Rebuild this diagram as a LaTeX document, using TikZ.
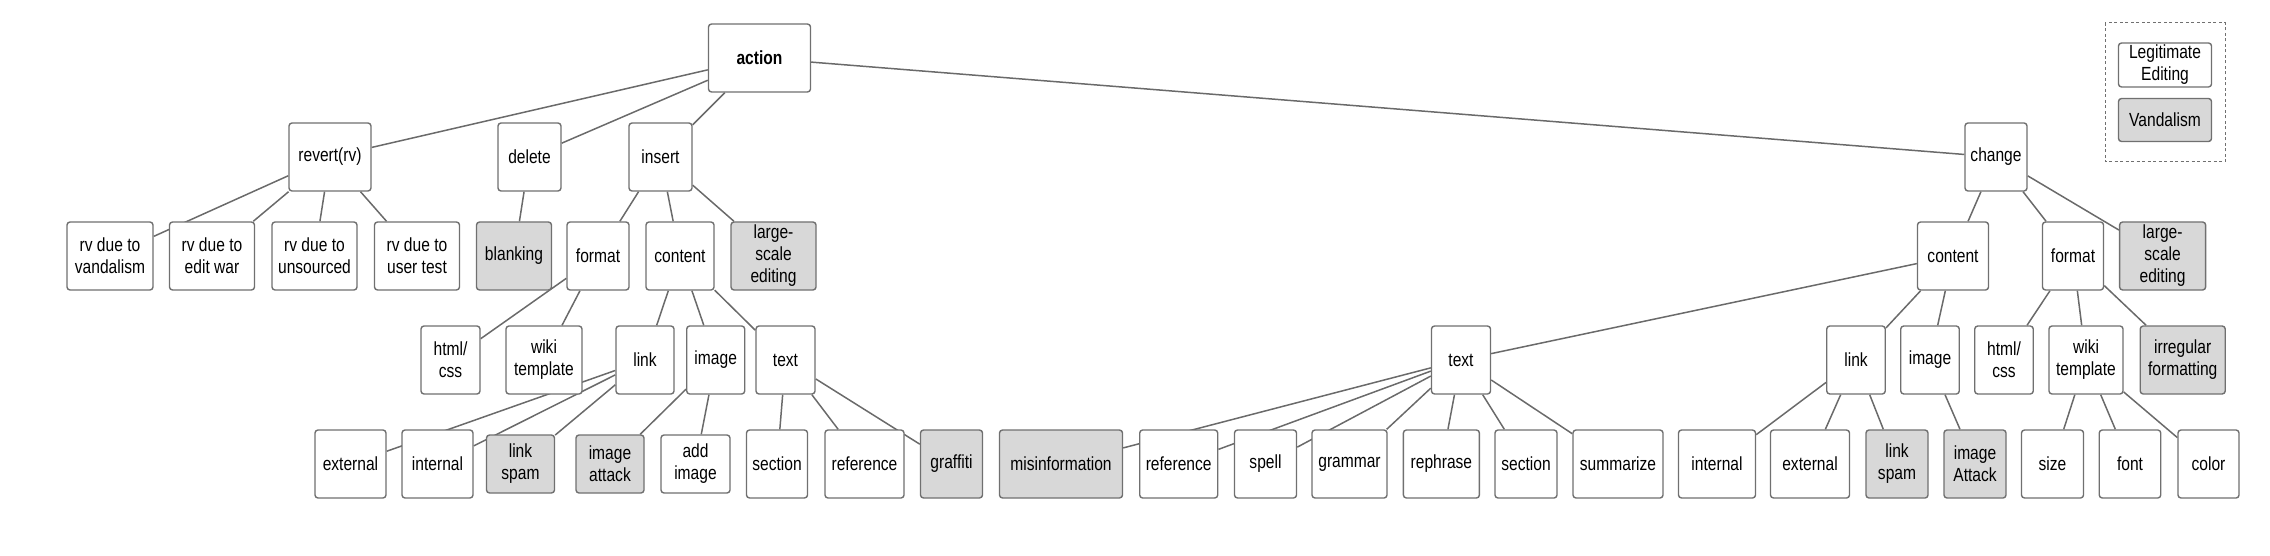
\documentclass[tikz,border=0pt]{standalone}
\usepackage{fontspec}
\setmainfont{Liberation Sans}[FakeStretch=0.82]
\usetikzlibrary{backgrounds}
\definecolor{boxgray}{HTML}{707070}
\definecolor{linegray}{HTML}{6A6A6A}
\definecolor{vgray}{HTML}{D8D8D8}
\tikzset{
  box/.style={draw=boxgray, line width=1.4pt, rounded corners=3pt, fill=white,
    minimum height=68pt, inner sep=0pt, align=center, text=black,
    font=\fontsize{19}{22}\selectfont},
  vbox/.style={box, fill=vgray},
  sbox/.style={minimum height=58pt},
  conn/.style={draw=linegray, line width=1.5pt},
  legendframe/.style={draw=boxgray, line width=1pt, dash pattern=on 3pt off 2.5pt}
}
\begin{document}
\begin{tikzpicture}[x=1pt,y=1pt]
\useasboundingbox (0,0) rectangle (2270,-556);
% level 0/1
\node[box, minimum width=102pt, font=\fontsize{19}{22}\selectfont\bfseries] (action) at (759.5,-58) {action};
\node[box, minimum width=82pt] (revert) at (330,-157) {revert(rv)};
\node[box, minimum width=63pt] (delete) at (529.5,-157) {delete};
\node[box, minimum width=63pt] (insert) at (660.5,-157) {insert};
\node[box, minimum width=62pt] (change) at (1996,-157) {change};
% level 2 left
\node[box, minimum width=86pt] (rvV) at (110,-256) {rv due to\\vandalism};
\node[box, minimum width=85pt] (rvE) at (212,-256) {rv due to\\edit war};
\node[box, minimum width=85pt] (rvU) at (314.5,-256) {rv due to\\unsourced};
\node[box, minimum width=85pt] (rvT) at (417,-256) {rv due to\\user test};
\node[vbox, minimum width=75pt] (blank) at (514,-256) {blanking};
\node[box, minimum width=62pt] (fmtL) at (598,-256) {format};
\node[box, minimum width=68pt] (conL) at (680,-256) {content};
\node[vbox, minimum width=85pt] (lseL) at (773.5,-256) {large-\\scale\\editing};
% level 3 left
\node[box, minimum width=59pt] (htmlL) at (450.5,-360) {html/\\css};
\node[box, minimum width=76pt] (wikiL) at (544,-360) {wiki\\template};
\node[box, minimum width=58pt] (linkL) at (645,-360) {link};
\node[box, minimum width=58pt] (imgL) at (715.7,-360) {image};
\node[box, minimum width=59pt] (textL) at (785.5,-360) {text};
% level 4 left
\node[box, minimum width=71pt] (extL) at (350.5,-464) {external};
\node[box, minimum width=71pt] (intL) at (437.5,-464) {internal};
\node[vbox, sbox, minimum width=68pt] (spamL) at (520.5,-464) {link\\spam};
\node[vbox, sbox, minimum width=68pt] (attL) at (610,-464) {image\\attack};
\node[box, sbox, minimum width=69pt] (addL) at (695.5,-464) {add\\image};
\node[box, minimum width=61pt] (secL) at (777,-464) {section};
\node[box, minimum width=79pt] (refL) at (864.5,-464) {reference};
\node[vbox, minimum width=62pt] (graf) at (951.5,-464) {graffiti};
% middle
\node[box, minimum width=59pt] (textR) at (1461,-360) {text};
\node[vbox, minimum width=123pt] (misinfo) at (1061,-464) {misinformation};
\node[box, minimum width=78pt] (refR) at (1178.7,-464) {reference};
\node[box, minimum width=62pt] (spell) at (1265.5,-464) {spell};
\node[box, minimum width=75pt] (grammar) at (1349.5,-464) {grammar};
\node[box, minimum width=76pt] (rephrase) at (1441.4,-464) {rephrase};
\node[box, minimum width=62pt] (secR) at (1526,-464) {section};
\node[box, minimum width=90pt] (summ) at (1618,-464) {summarize};
% right
\node[box, minimum width=71pt] (conR) at (1953,-256) {content};
\node[box, minimum width=61pt] (fmtR) at (2073,-256) {format};
\node[vbox, minimum width=86pt] (lseR) at (2162.6,-256) {large-\\scale\\editing};
\node[box, minimum width=58.5pt] (linkR) at (1856,-360) {link};
\node[box, minimum width=58.5pt] (imgR) at (1930,-360) {image};
\node[box, minimum width=58.5pt] (htmlR) at (2004,-360) {html/\\css};
\node[box, minimum width=74pt] (wikiR) at (2086,-360) {wiki\\template};
\node[vbox, minimum width=85pt] (irr) at (2182.7,-360) {irregular\\formatting};
\node[box, minimum width=77pt] (intR) at (1717,-464) {internal};
\node[box, minimum width=79pt] (extR) at (1810,-464) {external};
\node[vbox, minimum width=62pt] (spamR) at (1897,-464) {link\\spam};
\node[vbox, minimum width=62pt] (attR) at (1975,-464) {image\\Attack};
\node[box, minimum width=62pt] (size) at (2052.5,-464) {size};
\node[box, minimum width=61.5pt] (font) at (2130,-464) {font};
\node[box, minimum width=61pt] (color) at (2208.5,-464) {color};
% legend
\node[box, minimum width=93pt, minimum height=44pt] (legL) at (2165,-65) {Legitimate\\Editing};
\node[vbox, minimum width=93pt, minimum height=43pt] (legV) at (2165,-120) {Vandalism};
\coordinate (lgA) at (2105,-23);
\coordinate (lgB) at (2225,-162);
\draw[legendframe] (lgA) rectangle (lgB);
% connectors
\begin{scope}[on background layer]
\path[conn] (action) -- (revert) (action) -- (delete) (action) -- (insert) (action) -- (change);
\path[conn] (revert) -- (rvV) (revert) -- (rvE) (revert) -- (rvU) (revert) -- (rvT);
\path[conn] (delete) -- (blank);
\path[conn] (insert) -- (fmtL) (insert) -- (conL) (insert) -- (lseL);
\path[conn] (fmtL) -- (htmlL) (fmtL) -- (wikiL);
\path[conn] (conL) -- (linkL) (conL) -- (imgL) (conL) -- (textL);
\path[conn] (linkL) -- (extL) (linkL) -- (intL) (linkL) -- (spamL);
\path[conn] (imgL) -- (attL) (imgL) -- (addL);
\path[conn] (textL) -- (secL) (textL) -- (refL) (textL) -- (graf);
\path[conn] (change) -- (conR) (change) -- (fmtR) (change) -- (lseR);
\path[conn] (conR) -- (textR) (conR) -- (linkR) (conR) -- (imgR);
\path[conn] (textR) -- (misinfo) (textR) -- (refR) (textR) -- (spell) (textR) -- (grammar)
  (textR) -- (rephrase) (textR) -- (secR) (textR) -- (summ);
\path[conn] (linkR) -- (intR) (linkR) -- (extR) (linkR) -- (spamR);
\path[conn] (imgR) -- (attR);
\path[conn] (fmtR) -- (htmlR) (fmtR) -- (wikiR) (fmtR) -- (irr);
\path[conn] (wikiR) -- (size) (wikiR) -- (font) (wikiR) -- (color);
\end{scope}
\end{tikzpicture}
\end{document}
